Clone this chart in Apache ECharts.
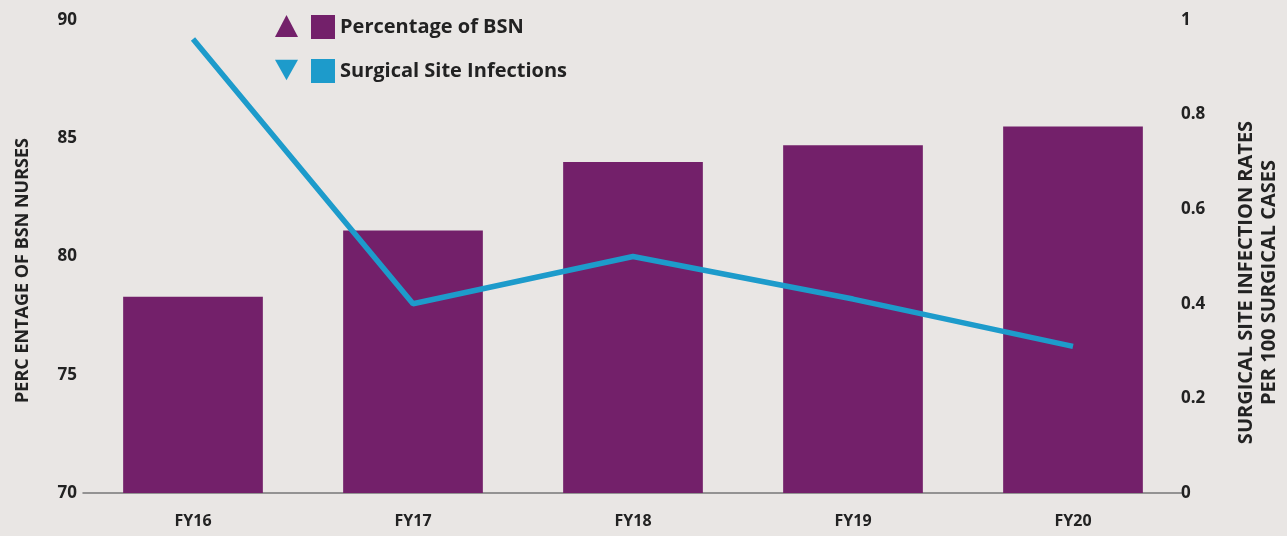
<!DOCTYPE html>
<html>
<head>
<meta charset="utf-8">
<script src="https://cdn.jsdelivr.net/npm/echarts@6/dist/echarts.min.js"></script>
<style>
html,body{margin:0;padding:0;background:#e9e6e4;}
#c{width:1287px;height:536px;}
</style>
</head>
<body>
<div id="c"></div>
<script>
const categories = ['FY16', 'FY17', 'FY18', 'FY19', 'FY20'];
const bsnPercent = [78.3, 81.1, 84.0, 84.7, 85.5];
const ssiRate = [0.96, 0.40, 0.50, 0.41, 0.31];
const leftTicks = { min: 70, max: 90, interval: 5 };
const rightTicks = { min: 0, max: 1, interval: 0.2 };

const purple = '#73206a';
const blue = '#1d9bcb';
const textColor = '#222';
const font = 'Open Sans';

const chart = echarts.init(document.getElementById('c'));
chart.setOption({
  backgroundColor: '#e9e6e4',
  animation: false,
  textStyle: { fontFamily: font },
  grid: { left: 83, right: 104, top: 20, bottom: 43, outerBoundsMode: 'none', containLabel: false },
  legend: [
    {
      orient: 'vertical', left: 270, top: 10,
      itemWidth: 23, itemHeight: 22, itemGap: 22,
      data: [
        { name: 'Percentage of BSN', icon: 'triangle' },
        { name: 'Surgical Site Infections', icon: 'path://M0,0 L10,0 L5,9 Z' }
      ],
      formatter: () => '',
      selectedMode: false
    },
    {
      orient: 'vertical', left: 306, top: 10,
      itemWidth: 24, itemHeight: 24, itemGap: 20,
      data: [
        { name: 'Percentage of BSN', icon: 'rect' },
        { name: 'Surgical Site Infections', icon: 'rect' }
      ],
      textStyle: { color: textColor, fontSize: 20, fontWeight: 'bold', fontFamily: font },
      selectedMode: false
    }
  ],
  xAxis: {
    type: 'category',
    data: categories,
    axisTick: { show: false },
    axisLine: { show: true, lineStyle: { color: '#777', width: 1.5 } },
    axisLabel: { color: textColor, fontSize: 16, fontWeight: 'bold', margin: 20 }
  },
  yAxis: [
    {
      type: 'value',
      min: leftTicks.min, max: leftTicks.max, interval: leftTicks.interval,
      position: 'left',
      splitLine: { show: false },
      axisLine: { show: false },
      axisTick: { show: false },
      axisLabel: { color: textColor, fontSize: 17, fontWeight: 'bold', margin: 6 },
      name: 'PERC ENTAGE OF BSN NURSES',
      nameLocation: 'middle',
      nameGap: 51,
      nameTextStyle: { color: textColor, fontSize: 18, fontWeight: 'bold', padding: [0, 28, 0, 0] }
    },
    {
      type: 'value',
      min: rightTicks.min, max: rightTicks.max, interval: rightTicks.interval,
      position: 'right',
      splitLine: { show: false },
      axisLine: { show: false },
      axisTick: { show: false },
      axisLabel: { color: textColor, fontSize: 17, fontWeight: 'bold', margin: -2 },
      name: 'SURGICAL SITE INFECTION RATES\nPER 100 SURGICAL CASES',
      nameLocation: 'middle',
      nameGap: 52,
      nameTextStyle: { color: textColor, fontSize: 20, fontWeight: 'bold', lineHeight: 23, align: 'center', padding: [0, 52, 0, 0] }
    }
  ],
  series: [
    {
      name: 'Percentage of BSN',
      type: 'bar',
      data: bsnPercent,
      yAxisIndex: 0,
      barWidth: '63.5%',
      itemStyle: { color: purple },
      z: 2
    },
    {
      name: 'Surgical Site Infections',
      type: 'line',
      data: ssiRate,
      yAxisIndex: 1,
      symbol: 'none',
      lineStyle: { color: blue, width: 5.5 },
      itemStyle: { color: blue },
      z: 3
    }
  ]
});
</script>
</body>
</html>
